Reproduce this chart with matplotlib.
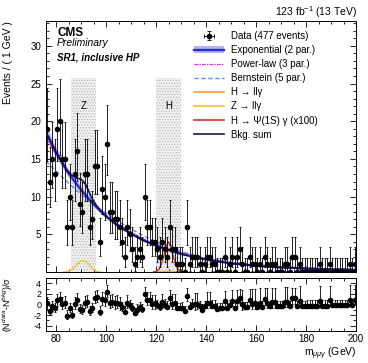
import math

import numpy as np
import matplotlib
matplotlib.use("Agg")
import matplotlib.pyplot as plt
from matplotlib.lines import Line2D
from matplotlib.patches import Patch
from matplotlib.ticker import MultipleLocator

plt.rcParams["font.family"] = ["Liberation Sans", "DejaVu Sans"]
plt.rcParams["mathtext.fontset"] = "custom"
plt.rcParams["mathtext.rm"] = "Liberation Sans"
plt.rcParams["mathtext.it"] = "Liberation Sans:italic"
plt.rcParams["mathtext.bf"] = "Liberation Sans:bold"
plt.rcParams["axes.unicode_minus"] = False
plt.rcParams["hatch.linewidth"] = 0.5

# ---- data: events per 1 GeV bin, 76-200 GeV ----
bin_edges_lo = 76
bin_width = 1
counts = [
    19, 12, 15, 13, 19, 20, 15, 15, 6, 10,      # 76-85
    6, 13, 16, 9, 8, 13, 13, 6, 7, 14,          # 86-95
    14, 4, 11, 10, 17, 8, 8, 7, 7, 6,           # 96-105
    4, 2, 6, 5, 3, 1, 2, 3, 2, 10,              # 106-115
    6, 6, 4, 4, 3, 2, 4, 3, 2, 6,               # 116-125
    3, 3, 1, 1, 1, 0, 6, 1, 2, 2,               # 126-135
    2, 1, 0, 1, 2, 2, 1, 1, 0, 0,               # 136-145
    0, 2, 0, 1, 2, 0, 2, 3, 1, 0,               # 146-155
    0, 2, 1, 1, 0, 1, 0, 2, 1, 0,               # 156-165
    1, 1, 0, 0, 0, 1, 1, 0, 2, 2,               # 166-175
    0, 1, 0, 0, 0, 0, 0, 0, 0, 1,               # 176-185
    0, 0, 0, 1, 0, 0, 0, 0, 0, 0,               # 186-195
    0, 1, 0, 1,                                 # 196-199
]

# ---- fit curves ----
bkg_mass = [76, 80, 85, 90, 95, 100, 105, 110, 115, 120, 125, 130,
            140, 150, 160, 170, 180, 190, 200]
exp_vals = [18.5, 15.9, 13.1, 10.9, 9.0, 7.4, 6.1, 5.1, 4.2, 3.5, 2.9, 2.4,
            1.65, 1.15, 0.82, 0.6, 0.45, 0.35, 0.28]
exp_err = [0.9, 0.7, 0.55, 0.45, 0.35, 0.3, 0.25, 0.2, 0.17, 0.15, 0.13, 0.12,
           0.1, 0.08, 0.07, 0.06, 0.06, 0.05, 0.05]
pow_vals = [17.9, 15.6, 13.0, 10.9, 9.1, 7.6, 6.3, 5.3, 4.4, 3.7, 3.1, 2.6,
            1.8, 1.3, 0.95, 0.72, 0.56, 0.44, 0.35]
bern_vals = [14.7, 13.4, 11.8, 10.3, 9.0, 7.8, 6.7, 5.7, 4.8, 4.0, 3.3, 2.7,
             1.8, 1.2, 0.85, 0.62, 0.48, 0.4, 0.35]

sum_mass = [76, 80, 84, 86, 88, 89, 90, 91, 92, 93, 94, 96, 98, 100, 105, 110,
            115, 120, 125, 130, 140, 150, 160, 170, 180, 190, 200]
sum_vals = [18.5, 15.9, 13.7, 12.9, 12.5, 12.4, 12.3, 12.0, 11.5, 10.8, 10.0,
            8.9, 8.0, 7.4, 6.1, 5.1, 4.2, 3.5, 2.95, 2.4, 1.65, 1.15, 0.82,
            0.6, 0.45, 0.35, 0.28]

z_mass = [83, 84, 85, 86, 87, 88, 89, 90, 91, 92, 93, 94, 95, 96, 97, 98]
z_vals = [0.0, 0.02, 0.08, 0.25, 0.5, 0.85, 1.2, 1.45, 1.5, 1.4, 1.1, 0.7,
          0.35, 0.12, 0.03, 0.0]

h_mass = [119, 120, 121, 122, 123, 124, 125, 126, 127, 128, 129, 130, 131]
hpsi_vals = [0.0, 0.05, 0.3, 0.9, 2.0, 3.3, 4.0, 3.3, 2.0, 0.9, 0.3, 0.05, 0.0]
hll_vals = [0.0, 0.0, 0.01, 0.02, 0.04, 0.06, 0.07, 0.06, 0.04, 0.02, 0.01, 0.0, 0.0]

z_window = (86, 96)
h_window = (120, 130)
window_top = 25.7


def poisson_interval(n, cl=0.6827):
    """Garwood interval for a Poisson count."""
    alpha = (1 - cl) / 2

    def cdf(k, mu):
        return sum(math.exp(-mu) * mu ** i / math.factorial(i) for i in range(k + 1))

    def solve(f, target):
        a, b = 0.0, 60.0
        for _ in range(60):
            m = 0.5 * (a + b)
            if f(m) > target:
                a = m
            else:
                b = m
        return 0.5 * (a + b)

    hi = solve(lambda mu: cdf(n, mu), alpha)
    lo = 0.0 if n == 0 else solve(lambda mu: cdf(n - 1, mu), 1 - alpha)
    return lo, hi


counts = np.array(counts)
centers = bin_edges_lo + bin_width * (np.arange(len(counts)) + 0.5)
intervals = np.array([poisson_interval(int(n)) for n in counts])
err_lo = counts - intervals[:, 0]
err_hi = intervals[:, 1] - counts

# pulls against the background sum (RooFit-style)
bkg_at = np.exp(np.interp(centers, sum_mass, np.log(sum_vals)))
resid = counts - bkg_at
sigma = np.where(resid > 0, err_lo, err_hi)
pull = resid / sigma
pull_lo = err_lo / sigma
pull_hi = err_hi / sigma

W, H = 368, 363
fig = plt.figure(figsize=(W / 100, H / 100), dpi=100)
ax = fig.add_axes([46 / W, 1 - 272 / H, 310 / W, 251 / H])
axr = fig.add_axes([46 / W, 1 - 331 / H, 310 / W, 53 / H])

# mass windows
for lo, hi in (z_window, h_window):
    ax.fill_between([lo, hi], 0, window_top, facecolor="#f0f0f0",
                    edgecolor="#b4b4b4", hatch="......", linewidth=0, zorder=0)
ax.text(91, 22.0, "Z", ha="center", va="center", fontsize=7)
ax.text(125, 22.0, "H", ha="center", va="center", fontsize=7)

ax.fill_between(bkg_mass, np.array(exp_vals) - np.array(exp_err),
                np.array(exp_vals) + np.array(exp_err),
                color="#b4b4f0", lw=0, zorder=1)
ax.plot(bkg_mass, bern_vals, color="#4d8cff", lw=1.0, ls=(0, (3, 2)), zorder=2)
ax.plot(bkg_mass, pow_vals, color="#ee22ee", lw=0.9, ls=(0, (3, 1, 1, 1)), zorder=2)
ax.plot(bkg_mass, exp_vals, color="#2b2bd6", lw=1.6, zorder=3)
ax.plot(sum_mass, sum_vals, color="#161660", lw=1.2, zorder=4)
ax.plot(z_mass, z_vals, color="#f2c037", lw=1.0, zorder=3)
ax.plot(h_mass, hll_vals, color="#ff9a3c", lw=1.0, zorder=3)
ax.plot(h_mass, hpsi_vals, color="#cc3030", lw=1.0, zorder=3)

ax.errorbar(centers, counts, yerr=[err_lo, err_hi], fmt="o", ms=3, color="k",
            ecolor="k", elinewidth=0.6, capsize=1.0, capthick=0.6, zorder=5)

ax.set_xlim(76, 200)
ax.set_ylim(0, 33.3)
ax.set_yticks([5, 10, 15, 20, 25, 30])
ax.yaxis.set_minor_locator(MultipleLocator(1))
ax.xaxis.set_major_locator(MultipleLocator(20))
ax.xaxis.set_minor_locator(MultipleLocator(5))
ax.tick_params(axis="x", labelbottom=False)
ax.set_ylabel("Events / ( 1 GeV )", loc="top", fontsize=7.5)
ax.yaxis.set_label_coords(-0.105, 1.0)

for a in (ax, axr):
    a.tick_params(which="both", direction="in", top=True, right=True,
                  labelsize=7, width=0.6)
    a.tick_params(which="major", length=4)
    a.tick_params(which="minor", length=2)
    for s in a.spines.values():
        s.set_linewidth(0.7)

# legend
h_data = ax.errorbar([np.nan], [np.nan], xerr=[1], yerr=[1], fmt="o", ms=3,
                     color="k", elinewidth=0.6, capsize=1.5, capthick=0.6)
handles = [
    h_data,
    (Patch(facecolor="#b4b4f0", lw=0), Line2D([], [], color="#2b2bd6", lw=1.6)),
    Line2D([], [], color="#ee22ee", lw=0.9, ls=(0, (3, 1, 1, 1))),
    Line2D([], [], color="#4d8cff", lw=1.0, ls=(0, (3, 2))),
    Line2D([], [], color="#ff9a3c", lw=1.2),
    Line2D([], [], color="#f2c037", lw=1.2),
    Line2D([], [], color="#cc3030", lw=1.2),
    Line2D([], [], color="#161660", lw=1.2),
]
labels = ["Data (477 events)", "Exponential (2 par.)", "Power-law (3 par.)",
          "Bernstein (5 par.)", "H → llγ", "Z → llγ",
          "H → Ψ(1S) γ (x100)", "Bkg. sum"]
ax.legend(handles, labels, loc="upper left", bbox_to_anchor=(0.478, 0.96),
          frameon=False, fontsize=7, handlelength=3.1, handletextpad=0.7,
          labelspacing=0.42, borderpad=0, borderaxespad=0)

# residual panel
axr.errorbar(centers, pull, yerr=[pull_lo, pull_hi], fmt="o", ms=3, color="k",
             ecolor="k", elinewidth=0.6, capsize=1.0, capthick=0.6)
axr.set_xlim(76, 200)
axr.set_ylim(-5, 5)
axr.set_yticks([-4, -2, 0, 2, 4])
axr.yaxis.set_minor_locator(MultipleLocator(1))
axr.xaxis.set_major_locator(MultipleLocator(20))
axr.xaxis.set_minor_locator(MultipleLocator(5))
axr.tick_params(axis="y", labelsize=6.5)
axr.tick_params(axis="x", pad=2)
axr.set_ylabel("(N$^{data}$-N$^{bkg}$)/σ", fontsize=6.5)
axr.yaxis.set_label_coords(-0.1, 0.5)

fig.text(357 / W, 1 / H, "m$_{μμγ}$ (GeV)", fontsize=7.5, ha="right",
         va="bottom")
fig.text(57 / W, 1 - 36 / H, "CMS", fontsize=8.5, fontweight="bold", va="baseline")
fig.text(57 / W, 1 - 46 / H, "Preliminary", fontsize=7.5, style="italic", va="baseline")
fig.text(57 / W, 1 - 60 / H, "SR1, inclusive HP", fontsize=7, fontweight="bold",
         style="italic", va="baseline")
fig.text(357 / W, 1 - 16 / H, "123 fb$^{-1}$ (13 TeV)", fontsize=7.5, ha="right",
         va="baseline")

fig.savefig("out.png", dpi=100)
